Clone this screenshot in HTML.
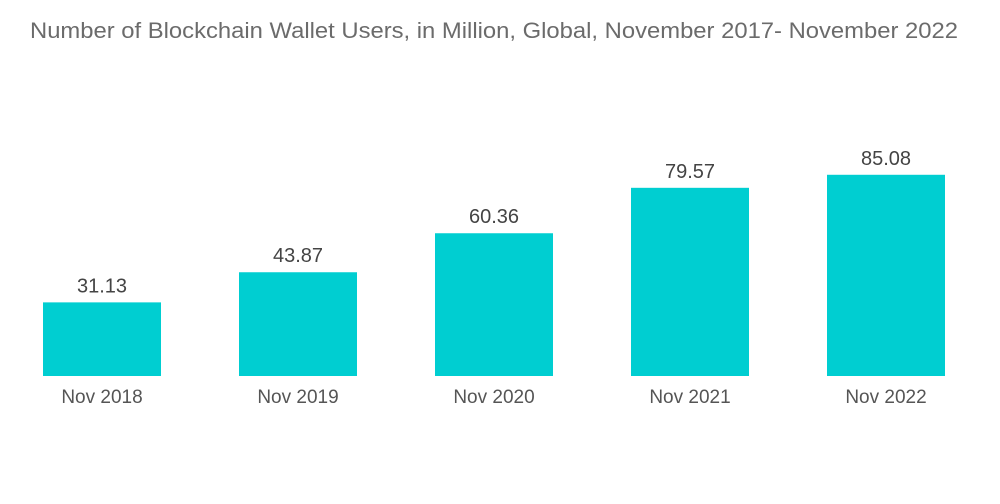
<!DOCTYPE html>
<html><head><meta charset="utf-8"><style>
html,body{margin:0;padding:0;background:#fff;width:1000px;height:504px;overflow:hidden;}
svg{display:block;font-family:"Liberation Sans",sans-serif;}
</style></head><body>
<svg id="chart" width="1000" height="504">
<text x="30" y="38" textLength="928" lengthAdjust="spacingAndGlyphs" font-size="22" fill="#6b6b6b">Number of Blockchain Wallet Users, in Million, Global, November 2017- November 2022</text>
</svg>
<script>
const categories = ["Nov 2018","Nov 2019","Nov 2020","Nov 2021","Nov 2022"];
const values = [31.13, 43.87, 60.36, 79.57, 85.08];
const valueLabels = ["31.13","43.87","60.36","79.57","85.08"];
const svg = document.getElementById('chart');
const NS = 'http://www.w3.org/2000/svg';
const baseY = 376, pxPerUnit = 2.365, x0 = 43, step = 196, bw = 118;
const xScale = i => x0 + i * step;
const yScale = v => baseY - v * pxPerUnit;
categories.forEach((c, i) => {
  const r = document.createElementNS(NS, 'rect');
  r.setAttribute('x', xScale(i));
  r.setAttribute('y', yScale(values[i]));
  r.setAttribute('width', bw);
  r.setAttribute('height', baseY - yScale(values[i]));
  r.setAttribute('fill', '#00ced1');
  
  
  svg.appendChild(r);
  const t = document.createElementNS(NS, 'text');
  t.setAttribute('x', xScale(i) + bw / 2);
  t.setAttribute('y', yScale(values[i]) - 10);
  t.setAttribute('text-anchor', 'middle');
  t.setAttribute('font-size', '20');
  t.setAttribute('fill', '#444');
  t.textContent = valueLabels[i];
  
  
  svg.appendChild(t);
  const l = document.createElementNS(NS, 'text');
  l.setAttribute('x', xScale(i) + bw / 2);
  l.setAttribute('y', baseY + 27);
  l.setAttribute('text-anchor', 'middle');
  l.setAttribute('font-size', '19');
  l.setAttribute('fill', '#555');
  l.textContent = c;
  
  
  svg.appendChild(l);
});
</script>
</body></html>
